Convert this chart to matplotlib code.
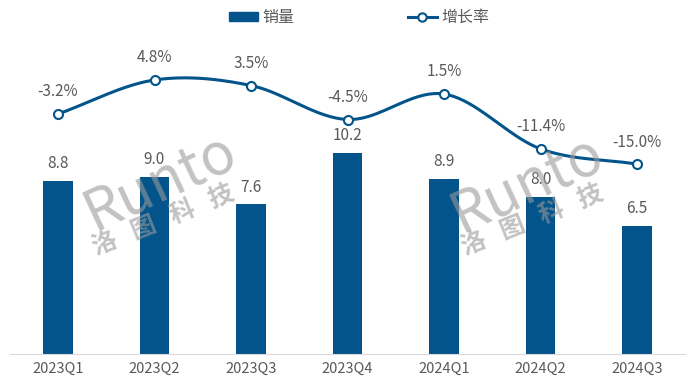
import matplotlib.pyplot as plt
import numpy as np
from matplotlib.lines import Line2D
from matplotlib.patches import Patch

plt.rcParams['font.family'] = ['Noto Sans CJK SC', 'DejaVu Sans']

quarters = ['2023Q1', '2023Q2', '2023Q3', '2023Q4', '2024Q1', '2024Q2', '2024Q3']
sales = [8.8, 9.0, 7.6, 10.2, 8.9, 8.0, 6.5]
growth = [-3.2, 4.8, 3.5, -4.5, 1.5, -11.4, -15.0]

blue = '#02548a'
grey = '#595959'


def smooth(x, y, n=40):
    # Catmull-Rom curve through the points, like Excel's smoothed line
    x = np.asarray(x, float)
    y = np.asarray(y, float)
    px = np.concatenate([[2 * x[0] - x[1]], x, [2 * x[-1] - x[-2]]])
    py = np.concatenate([[2 * y[0] - y[1]], y, [2 * y[-1] - y[-2]]])
    xs, ys = [], []
    t = np.linspace(0, 1, n)
    for i in range(1, len(px) - 2):
        for p, out in ((px, xs), (py, ys)):
            p0, p1, p2, p3 = p[i - 1], p[i], p[i + 1], p[i + 2]
            out.extend(0.5 * (2 * p1 + (-p0 + p2) * t
                              + (2 * p0 - 5 * p1 + 4 * p2 - p3) * t ** 2
                              + (-p0 + 3 * p1 - 3 * p2 + p3) * t ** 3))
    return np.array(xs), np.array(ys)


fig = plt.figure(figsize=(7, 3.83), dpi=100)
ax = fig.add_axes([9.75 / 700, 29 / 383, 675.5 / 700, 315 / 383])
x = np.arange(len(quarters))

ax.bar(x, sales, width=0.31, color=blue, zorder=2)
for xi, v in zip(x, sales):
    ax.text(xi, v + 0.45, f'{v:.1f}', ha='center', va='bottom', fontsize=11, color=grey)

ax.set_xlim(-0.5, len(quarters) - 0.5)
ax.set_ylim(0, 16)
ax.set_yticks([])
ax.set_xticks(x)
ax.set_xticklabels(quarters, fontsize=10.5, color=grey)
ax.tick_params(axis='x', length=0, pad=6)
for s in ['top', 'right', 'left']:
    ax.spines[s].set_visible(False)
ax.spines['bottom'].set_color('#d9d9d9')

ax2 = ax.twinx()
ax2.set_ylim(-59.7, 14.45)
ax2.axis('off')
sx, sy = smooth(x, growth)
ax2.plot(sx, sy, color=blue, lw=2.2, zorder=3)
ax2.plot(x, growth, 'o', ms=6.5, mfc='white', mec=blue, mew=1.5, zorder=4)
for xi, v in zip(x, growth):
    ax2.text(xi, v + 3.2, f'{v:.1f}%', ha='center', va='bottom', fontsize=11, color=grey)

# watermark
for (rx, ry), (cx, cy) in [((0.229, 0.525), (0.233, 0.425)), ((0.753, 0.52), (0.76, 0.425))]:
    fig.text(rx, ry, 'Runto', fontsize=41, color='#9a9a9a', alpha=0.6, rotation=25,
             ha='center', va='center', rotation_mode='anchor', zorder=5)
    fig.text(cx, cy, '洛   图   科   技', fontsize=18, color='#9a9a9a', alpha=0.6,
             rotation=22, fontweight='bold', ha='center', va='center',
             rotation_mode='anchor', zorder=5)

handles = [Patch(color=blue),
           Line2D([0], [0], color=blue, lw=2.2, marker='o', ms=6, mfc='white', mec=blue, mew=1.5)]
fig.legend(handles, ['销量', '增长率'], loc='center', bbox_to_anchor=(0.513, 0.955), ncol=2,
           frameon=False, fontsize=11.5, labelcolor=grey, columnspacing=7.1,
           handlelength=1.8, handleheight=0.5, handletextpad=0.3)

fig.savefig('out.png', dpi=100)
